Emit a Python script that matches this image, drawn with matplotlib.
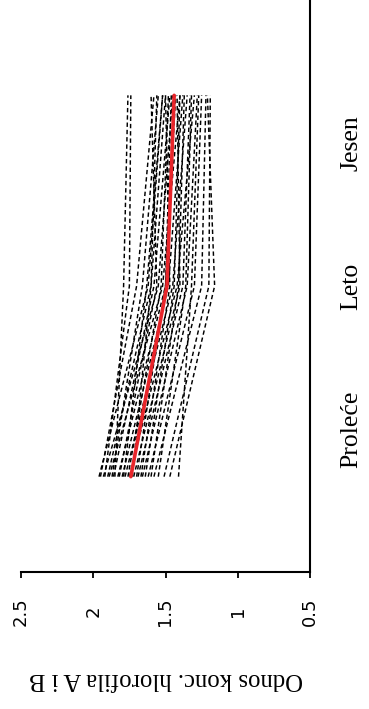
import numpy as np
import matplotlib
matplotlib.use('Agg')
import matplotlib.pyplot as plt

# season categories and where their names sit on the category axis
seasons = ['Proleće', 'Leto', 'Jesen']
season_pos = [1, 2, 3]
label_pos = [1.25, 2.0, 2.75]

# chlorophyll a/b ratio per sampling site: spring, summer, autumn
prolece = [1.96, 1.95, 1.93, 1.92, 1.90, 1.89, 1.87, 1.86, 1.85, 1.83,
           1.82, 1.80, 1.79, 1.78, 1.76, 1.75, 1.73, 1.72, 1.70, 1.69,
           1.67, 1.66, 1.64, 1.62, 1.60, 1.58, 1.55, 1.51, 1.47, 1.41]
leto = [1.62, 1.70, 1.55, 1.75, 1.60, 1.52, 1.66, 1.58, 1.79, 1.50,
        1.56, 1.48, 1.63, 1.45, 1.53, 1.42, 1.60, 1.40, 1.50, 1.38,
        1.47, 1.35, 1.44, 1.30, 1.41, 1.25, 1.36, 1.20, 1.16, 1.32]
jesen = [1.52, 1.58, 1.45, 1.74, 1.50, 1.40, 1.55, 1.47, 1.76, 1.43,
         1.60, 1.38, 1.52, 1.35, 1.48, 1.30, 1.56, 1.42, 1.46, 1.33,
         1.50, 1.28, 1.40, 1.25, 1.37, 1.22, 1.32, 1.19, 1.21, 1.27]

# average trend
mean_ratio = [1.74, 1.49, 1.44]

value_ticks = [2.5, 2, 1.5, 1, 0.5]

fig = plt.figure(figsize=(3.69, 7.09), dpi=100)
ax = fig.add_axes([21 / 369, 137 / 709, 289 / 369, 572 / 709])

for p, l, j in zip(prolece, leto, jesen):
    ax.plot([p, l, j], season_pos, color='black', lw=1.05,
            linestyle=(0, (3, 2)), zorder=2)
ax.plot(mean_ratio, season_pos, color='#e8262b', lw=2.6,
        solid_capstyle='round', zorder=3)

ax.set_xlim(2.5, 0.5)
ax.set_ylim(0.5, 3.5)

for side in ['left', 'top']:
    ax.spines[side].set_visible(False)
for side in ['bottom', 'right']:
    ax.spines[side].set_linewidth(1.5)

ax.set_xticks(value_ticks)
ax.set_xticklabels([str(v) for v in value_ticks], rotation=90,
                   fontsize=13, family='DejaVu Sans', va='center')
ax.tick_params(axis='x', length=4.5, width=1.3, pad=24)

ax.yaxis.tick_right()
ax.set_yticks(label_pos)
ax.set_yticklabels(seasons, rotation=90, fontsize=18.5,
                   family='Liberation Serif', va='center')
ax.tick_params(axis='y', length=0, pad=22)

ax.set_xlabel('Odnos konc. hlorofila A i B', rotation=180, fontsize=17.8,
              family='Liberation Serif', labelpad=30)

fig.savefig('out.png', dpi=100)
